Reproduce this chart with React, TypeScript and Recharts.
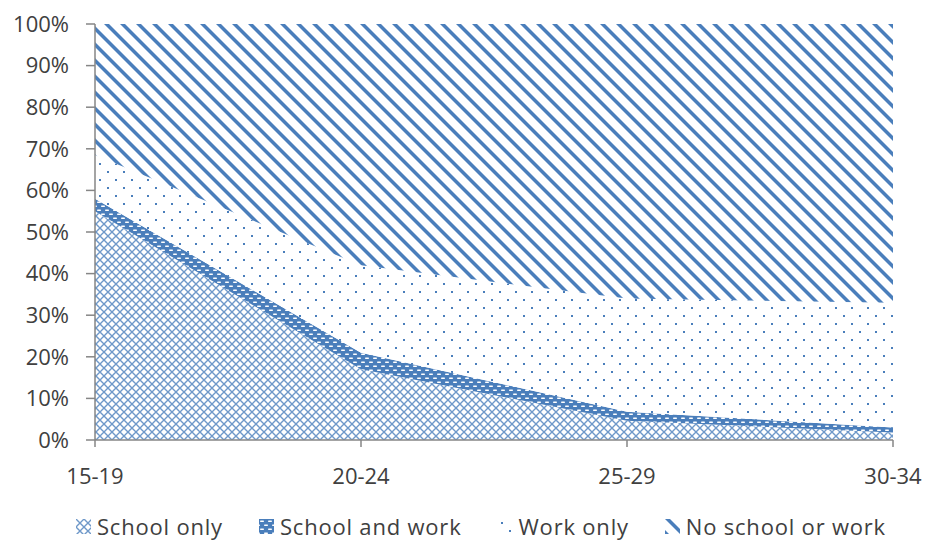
import React from 'react';
import { AreaChart, Area, XAxis, YAxis } from 'recharts';

const categories = ['15-19', '20-24', '25-29', '30-34'];
const schoolOnly = [55, 17, 4.6, 1.8];
const schoolAndWork = [3, 4, 2.2, 1.2];
const workOnly = [10.5, 21, 27.2, 30];
const noSchoolOrWork = [31.5, 58, 66, 67];
const yTicks = [0, 10, 20, 30, 40, 50, 60, 70, 80, 90, 100];
const seriesNames = ['School only', 'School and work', 'Work only', 'No school or work'];
const seriesKeys = ['schoolOnly', 'schoolAndWork', 'workOnly', 'noSchoolOrWork'];
const patternIds = ['pSchoolOnly', 'pSchoolWork', 'pWorkOnly', 'pNoSchool'];

const data = categories.map((c, i) => ({
  age: c,
  schoolOnly: schoolOnly[i],
  schoolAndWork: schoolAndWork[i],
  workOnly: workOnly[i],
  noSchoolOrWork: noSchoolOrWork[i],
}));

const BLUE = '#4a7ebb';
const FONT = '"Open Sans", sans-serif';
const TEXT = '#404040';
const AXIS = '#868686';

const Patterns = () => (
  <defs>
    <pattern id="pSchoolOnly" patternUnits="userSpaceOnUse" width="8" height="8">
      <rect width="8" height="8" fill="#ffffff" />
      <path d="M0,0 L8,8 M8,0 L0,8" stroke={BLUE} strokeWidth="1.4" opacity="0.8" />
    </pattern>
    <pattern id="pSchoolWork" patternUnits="userSpaceOnUse" width="8" height="8">
      <rect width="8" height="8" fill={BLUE} />
      <rect x="1" y="1.5" width="4" height="1.4" rx="0.7" fill="#ffffff" />
      <rect x="5" y="5.5" width="4" height="1.4" rx="0.7" fill="#ffffff" />
      <rect x="-3" y="5.5" width="4" height="1.4" rx="0.7" fill="#ffffff" />
    </pattern>
    <pattern id="pWorkOnly" patternUnits="userSpaceOnUse" width="16" height="16">
      <rect width="16" height="16" fill="#ffffff" />
      <rect x="3" y="3" width="2" height="2" fill={BLUE} />
      <rect x="11" y="11" width="2" height="2" fill={BLUE} />
    </pattern>
    <pattern id="pNoSchool" patternUnits="userSpaceOnUse" width="16" height="16">
      <rect width="16" height="16" fill="#ffffff" />
      <polygon points="0,0 5,0 16,11 16,16" fill={BLUE} />
      <polygon points="0,11 5,16 0,16" fill={BLUE} />
    </pattern>
  </defs>
);

export default function App() {
  return (
    <div style={{ position: 'absolute', left: 0, top: 0, width: 927, height: 543, background: '#fff', overflow: 'hidden' }}>
      <AreaChart
        width={927}
        height={543}
        data={data}
        margin={{ top: 24, right: 34, bottom: 0, left: 0 }}
      >
        <Patterns />
        <YAxis
          domain={[0, 100]}
          ticks={yTicks}
          interval={0}
          width={95}
          tickFormatter={(v) => `${v}%`}
          tickSize={9}
          tickMargin={17}
          tick={{ fill: TEXT, fontSize: 22, fontFamily: FONT }}
          axisLine={{ stroke: AXIS, strokeWidth: 1.5 }}
          tickLine={{ stroke: AXIS, strokeWidth: 1.5 }}
        />
        <XAxis
          dataKey="age"
          interval={0}
          height={103}
          tickSize={7}
          tickMargin={21}
          tick={{ fill: TEXT, fontSize: 22, fontFamily: FONT }}
          axisLine={{ stroke: AXIS, strokeWidth: 1.5 }}
          tickLine={{ stroke: AXIS, strokeWidth: 1.5 }}
        />
        {seriesKeys.map((k, i) => (
          <Area
            key={k}
            type="linear"
            dataKey={k}
            name={seriesNames[i]}
            stackId="1"
            stroke="none"
            fill={`url(#${patternIds[i]})`}
            fillOpacity={1}
            dot={false}
            activeDot={false}
            isAnimationActive={false}
          />
        ))}
      </AreaChart>
      <div
        style={{
          position: 'absolute',
          left: 76,
          top: 515,
          display: 'flex',
          alignItems: 'center',
          fontFamily: FONT,
          fontSize: 22,
          lineHeight: '22px',
          letterSpacing: '0.8px',
          color: TEXT,
          whiteSpace: 'nowrap',
        }}
      >
        {seriesNames.map((n, i) => (
          <div key={n} style={{ display: 'flex', alignItems: 'center', marginRight: 36 }}>
            <svg width={15} height={15} style={{ marginRight: 6 }}>
              <rect width={15} height={15} fill={`url(#${patternIds[i]})`} />
            </svg>
            <span>{n}</span>
          </div>
        ))}
      </div>
    </div>
  );
}
